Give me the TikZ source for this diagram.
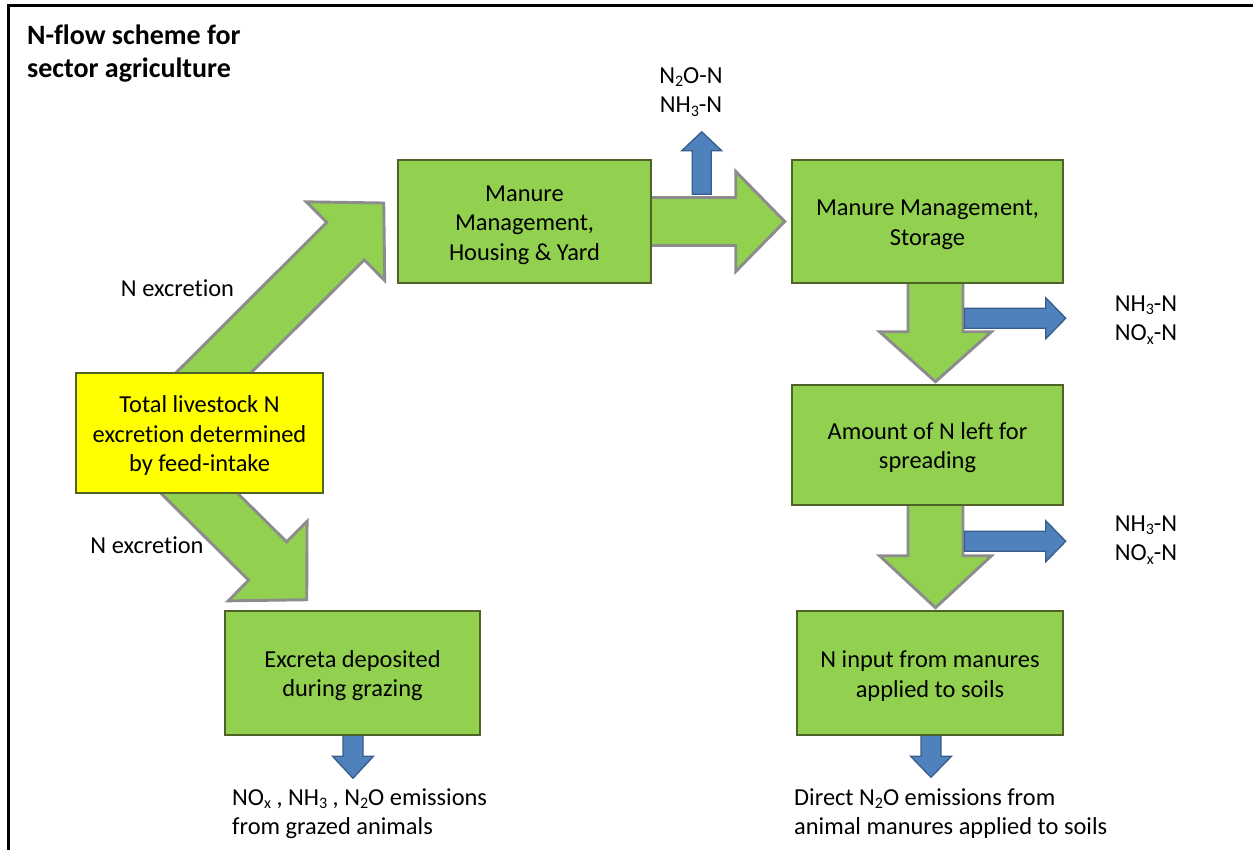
\documentclass[tikz,border=0pt]{standalone}
\usepackage{fontspec}
\setmainfont{Carlito}[Ligatures=NoCommon]
\usetikzlibrary{calc}
\pgfdeclarelayer{bg}
\pgfsetlayers{bg,main}
\definecolor{boxgreen}{HTML}{92D050}
\definecolor{boxedge}{HTML}{4F6228}
\definecolor{arrowgray}{HTML}{8C8C8C}
\definecolor{bluefill}{HTML}{4F81BD}
\definecolor{blueedge}{HTML}{385D8A}
\definecolor{boxyellow}{HTML}{FFFF00}
\newcommand{\sbs}[1]{\raisebox{-0.3ex}{\fontsize{16}{16}\selectfont #1}}
\newcommand{\tstrut}{\rule{0pt}{22.5pt}}
% #1 style, #2 start, #3 tip, #4 half shaft, #5 half head, #6 head length
\newcommand{\fatarrow}[6]{%
  \coordinate (fa-h) at ($(#3)!#6!(#2)$);
  \draw[#1] ($(#2)!#4!90:(#3)$) -- ($(fa-h)!#4!-90:(#2)$) -- ($(fa-h)!#5!-90:(#2)$)
    -- (#3) -- ($(fa-h)!#5!90:(#2)$) -- ($(fa-h)!#4!90:(#2)$)
    -- ($(#2)!#4!-90:(#3)$) -- cycle;}
\begin{document}
\begin{tikzpicture}[x=1pt,y=-1pt,
  txt/.style={font=\fontsize{24.4}{29.6}\selectfont, inner sep=0pt},
  flowbox/.style={txt, draw=boxedge, line width=2.5pt, fill=boxgreen, align=center},
  greenarrow/.style={fill=boxgreen, draw=arrowgray, line width=2.9pt, line join=miter},
  bluearrow/.style={fill=bluefill, draw=blueedge, line width=1.3pt, line join=miter}]
\useasboundingbox (0,0) rectangle (1253,849);
\draw[line width=3pt] (8,855) -- (8,5) -- (1260,5);

\node[txt, font=\bfseries\fontsize{28}{33}\selectfont, anchor=west, align=left] (title) at (27,53.5)
  {N-flow scheme for\\sector agriculture};

\node[flowbox, fill=boxyellow, minimum width=247pt, minimum height=120pt] (yb) at (199.5,433)
  {\tstrut Total livestock N\\excretion determined\\by feed-intake};
\node[flowbox, minimum width=253pt, minimum height=123pt] (hy) at (524.5,221.5)
  {\tstrut Manure\\Management,\\Housing \& Yard};
\node[flowbox, minimum width=271pt, minimum height=123pt] (st) at (927.5,221.5)
  {\tstrut Manure Management,\\Storage};
\node[flowbox, minimum width=271pt, minimum height=120pt] (sp) at (927.5,445)
  {\tstrut Amount of N left for\\spreading};
\node[flowbox, minimum width=266pt, minimum height=124pt] (so) at (930,673)
  {\tstrut N input from manures\\applied to soils};
\node[flowbox, minimum width=255pt, minimum height=124pt] (gr) at (352.5,673)
  {\tstrut Excreta deposited\\during grazing};

\node[txt] (nex1) at (177.5,288) {N excretion};
\node[txt] (nex2) at (147,545) {N excretion};
\node[txt, align=center] (em0) at (691,92) {N\sbs{2}O-N\\NH\sbs{3}-N};
\node[txt, align=center] (em1) at (1146,320) {NH\sbs{3}-N\\NO\sbs{x}-N};
\node[txt, align=center] (em2) at (1146,540) {NH\sbs{3}-N\\NO\sbs{x}-N};
\node[txt, align=left, anchor=west] (em3) at (232,813.5)
  {NO\sbs{x} , NH\sbs{3} , N\sbs{2}O emissions\\from grazed animals};
\node[txt, align=left, anchor=west] (em4) at (794,813.5)
  {Direct N\sbs{2}O emissions from\\animal manures applied to soils};

\coordinate (aS) at ($(hy.east)+(-6,0)$);
\coordinate (aT) at ($(st.west)+(-6,0)$);
\coordinate (cS) at ($(st.south)+(8,-5)$);
\coordinate (cT) at ($(sp.north)+(8,-2)$);
\coordinate (dS) at ($(sp.south)+(8,-5)$);
\coordinate (dT) at ($(so.north)+(5.5,-2)$);
\coordinate (eS) at ($(yb.north)+(-4,19)$);
\coordinate (eT) at ($(hy.west)+(-13,-18.5)$);
\coordinate (fS) at ($(yb.south)+(-19.5,-20)$);
\coordinate (fT) at ($(gr.north west)+(83,-10)$);
\coordinate (bS) at ($(hy.north east)+(49.5,35.5)$);
\coordinate (bT) at ($(hy.north east)+(49.5,-27)$);
\coordinate (r1S) at ($(st.south)+(37,34)$);
\coordinate (r1T) at ($(st.south east)+(1.5,34)$);
\coordinate (r2S) at ($(sp.south)+(37,35)$);
\coordinate (r2T) at ($(sp.south east)+(1.5,35)$);
\coordinate (g1S) at ($(gr.south)+(0.5,-3)$);
\coordinate (g1T) at ($(gr.south)+(0.5,42)$);
\coordinate (s1S) at ($(so.south)+(1,-3)$);
\coordinate (s1T) at ($(so.south)+(1,41)$);

\begin{pgfonlayer}{bg}
\fatarrow{greenarrow}{aS}{aT}{24pt}{50pt}{49pt}
\fatarrow{greenarrow}{cS}{cT}{27.5pt}{56pt}{50pt}
\fatarrow{greenarrow}{dS}{dT}{27.5pt}{56pt}{52pt}
\fatarrow{greenarrow}{eS}{eT}{26.5pt}{55.5pt}{54pt}
\fatarrow{greenarrow}{fS}{fT}{27pt}{56pt}{55pt}
\fatarrow{bluearrow}{bS}{bT}{9.5pt}{20pt}{19pt}
\fatarrow{bluearrow}{r1S}{r1T}{10pt}{20.5pt}{20pt}
\fatarrow{bluearrow}{r2S}{r2T}{10pt}{20.5pt}{20pt}
\fatarrow{bluearrow}{g1S}{g1T}{10pt}{20.5pt}{22pt}
\fatarrow{bluearrow}{s1S}{s1T}{10pt}{20.5pt}{21pt}
\end{pgfonlayer}
\end{tikzpicture}
\end{document}
